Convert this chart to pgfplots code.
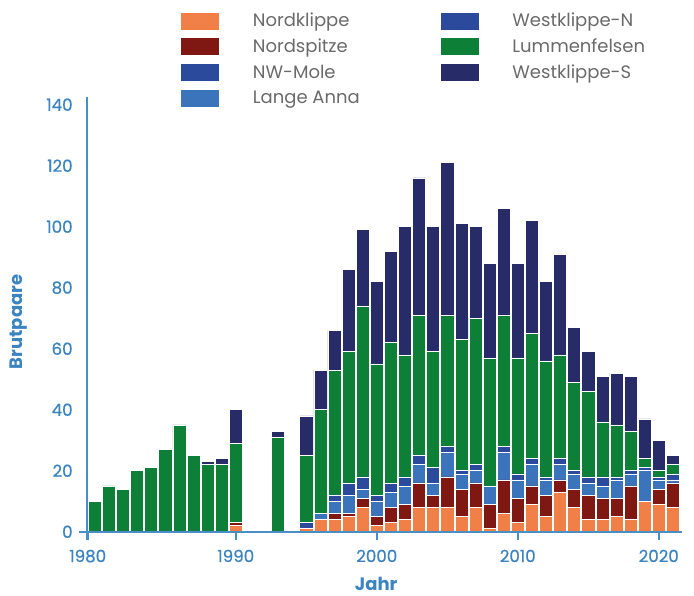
\documentclass[border=0pt]{standalone}
\usepackage{fontspec}
\setmainfont{Poppins}
\newfontfamily\tickfont[FakeBold=0.7]{Poppins}
\usepackage{pgfplots}
\usepackage{pgfplotstable}
\pgfplotsset{compat=1.18}
\definecolor{axblue}{HTML}{4A8EC6}
\definecolor{lblblue}{HTML}{3C84C0}
\definecolor{legtxt}{HTML}{6A6A6A}
\definecolor{cnk}{HTML}{F08048}
\definecolor{cns}{HTML}{7F1812}
\definecolor{cnw}{HTML}{2B4A9B}
\definecolor{cla}{HTML}{3B74BB}
\definecolor{cwn}{HTML}{2B4A9B}
\definecolor{clf}{HTML}{0E7F37}
\definecolor{cws}{HTML}{272C69}
\pgfplotstableread{
year nk ns nw la wn lf ws
1980 0 0 0 0 0 10 0
1981 0 0 0 0 0 15 0
1982 0 0 0 0 0 14 0
1983 0 0 0 0 0 20 0
1984 0 0 0 0 0 21 0
1985 0 0 0 0 0 27 0
1986 0 0 0 0 0 35 0
1987 0 0 0 0 0 25 0
1988 0 0 0 0 0 22 1
1989 0 0 0 0 0 22 2
1990 2 1 0 0 0 26 11
1993 0 0 0 0 0 31 2
1995 1 0 0 0 2 22 13
1996 4 0 0 2 0 34 13
1997 4 2 0 4 2 41 13
1998 5 1 0 6 4 43 27
1999 8 3 0 3 4 56 25
2000 2 3 0 5 2 43 27
2001 3 5 0 5 3 46 30
2002 4 5 0 6 3 40 42
2003 8 8 0 6 3 46 45
2004 8 4 0 4 5 38 41
2005 8 10 0 8 2 43 50
2006 5 9 0 5 1 43 38
2007 8 8 0 4 2 48 30
2008 1 8 0 6 0 42 31
2009 6 11 0 9 2 43 35
2010 3 8 0 6 2 38 31
2011 9 6 0 7 2 41 37
2012 5 7 0 5 1 38 26
2013 13 4 0 5 2 34 33
2014 8 6 0 5 1 29 18
2015 4 8 0 4 2 28 13
2016 4 7 0 4 3 18 15
2017 5 6 0 6 1 17 17
2018 4 11 0 4 1 13 18
2019 10 0 0 10 1 3 13
2020 9 5 0 3 1 2 10
2021 8 8 0 1 2 3 3
}\datatab
\begin{document}
\begin{tikzpicture}
\useasboundingbox (0,0) rectangle (520.5pt,447pt);
\begin{axis}[
  at={(65.5pt,48.2pt)}, anchor=south west,
  scale only axis, width=445.8pt, height=325.8pt,
  xmin=1979.47, xmax=2021.63, ymin=0, ymax=142.4,
  axis lines=left,
  axis line style={axblue, line width=1.3pt, -},
  x axis line style={shorten <=-6pt},
  y axis line style={shorten <=-6pt},
  axis on top,
  ybar stacked, bar width=0.93,
  xtick={1979.5,1990,2000,2010,2020},
  xticklabels={1980,1990,2000,2010,2020},
  ytick={0,20,...,140},
  tick align=outside, major tick length=6pt,
  x tick style={axblue, line width=1.3pt},
  y tick style={draw=none},
  tick label style={font=\tickfont\fontsize{12.5}{14}\selectfont, text=lblblue},
  xticklabel style={yshift=-4pt},
  yticklabel style={xshift=-1.5pt},
  /pgf/number format/assume math mode=true,
  xlabel={Jahr}, ylabel={Brutpaare},
  label style={font=\bfseries\fontsize{13.5}{15}\selectfont, text=lblblue},
  xlabel style={at={(axis description cs:0.486,-0.119)}, anchor=center},
  ylabel style={at={(axis description cs:-0.116,0.483)}, anchor=center},
  legend cell align=left,
  legend style={at={(axis description cs:0.151,1.202)}, anchor=north west,
    draw=none, fill=none, legend columns=2,
    font=\fontsize{13.5}{15}\selectfont, row sep=5.6pt,
    nodes={inner sep=0pt, text height=10pt, text depth=3pt, text=legtxt},
    /tikz/every odd column/.append style={column sep=25.5pt},
    /tikz/every even column/.append style={column sep=0pt}},
  every axis plot/.append style={draw=white, line width=0.4pt},
]
\addplot[fill=cnk, forget plot] table[x=year, y=nk] {\datatab};
\addplot[fill=cns, forget plot] table[x=year, y=ns] {\datatab};
\addplot[fill=cnw, forget plot] table[x=year, y=nw] {\datatab};
\addplot[fill=cla, forget plot] table[x=year, y=la] {\datatab};
\addplot[fill=cwn, forget plot] table[x=year, y=wn] {\datatab};
\addplot[fill=clf, forget plot] table[x=year, y=lf] {\datatab};
\addplot[fill=cws, forget plot] table[x=year, y=ws] {\datatab};
\addlegendimage{legend image code/.code={\fill[cnk] (0pt,-5pt) rectangle (27.75pt,7pt);}}
\addlegendentry{\makebox[141pt][l]{Nordklippe}}
\addlegendimage{legend image code/.code={\fill[cwn] (0pt,-5pt) rectangle (27.75pt,7pt);}}
\addlegendentry{Westklippe-N}
\addlegendimage{legend image code/.code={\fill[cns] (0pt,-5pt) rectangle (27.75pt,7pt);}}
\addlegendentry{\makebox[141pt][l]{Nordspitze}}
\addlegendimage{legend image code/.code={\fill[clf] (0pt,-5pt) rectangle (27.75pt,7pt);}}
\addlegendentry{Lummenfelsen}
\addlegendimage{legend image code/.code={\fill[cnw] (0pt,-5pt) rectangle (27.75pt,7pt);}}
\addlegendentry{\makebox[141pt][l]{NW-Mole}}
\addlegendimage{legend image code/.code={\fill[cws] (0pt,-5pt) rectangle (27.75pt,7pt);}}
\addlegendentry{Westklippe-S}
\addlegendimage{legend image code/.code={\fill[cla] (0pt,-5pt) rectangle (27.75pt,7pt);}}
\addlegendentry{\makebox[141pt][l]{Lange Anna}}
\end{axis}
\end{tikzpicture}
\end{document}
